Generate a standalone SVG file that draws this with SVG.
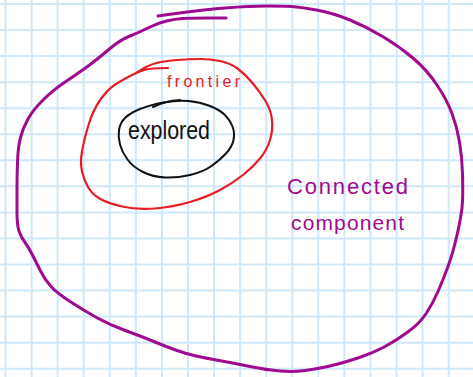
<svg xmlns="http://www.w3.org/2000/svg" width="473" height="377" viewBox="0 0 473 377">
<style>
.grid{stroke:#cfe8fa;stroke-width:2;fill:none}
.loop{fill:none;stroke-linecap:round;stroke-linejoin:round}
.purple{stroke:#a00a90;stroke-width:3}
.red{stroke:#e81a22;stroke-width:2.2}
.black{stroke:#111;stroke-width:2}
.lbl{font-family:"Liberation Sans","DejaVu Sans",sans-serif}
</style>
<rect width="473" height="377" fill="#ffffff"/>
<path class="grid" d="M5.5,0V377M31.6,0V377M57.6,0V377M83.7,0V377M109.8,0V377M135.9,0V377M161.9,0V377M188,0V377M214.1,0V377M240.1,0V377M266.2,0V377M292.3,0V377M318.3,0V377M344.4,0V377M370.5,0V377M396.6,0V377M422.6,0V377M448.7,0V377M0,4H473M0,30.05H473M0,56.1H473M0,82.15H473M0,108.2H473M0,134.25H473M0,160.3H473M0,186.35H473M0,212.4H473M0,238.45H473M0,264.5H473M0,290.55H473M0,316.6H473M0,342.65H473M0,368.7H473"/>
<g id="connected-component">
<path class="loop purple" d="M158,16 Q200,10 225,8 Q250,6 266.5,6 Q283,6 291.5,6.5 Q300,7 316.5,10 Q333,13 350,20 Q367,27 383.5,37 Q400,47 413.5,58.5 Q427,70 437,85 Q447,100 452,113.5 Q457,127 459.5,142 Q462,157 462.5,173.5 Q463,190 462.5,201.5 Q462,213 457.5,233 Q453,253 448,266.5 Q443,280 438,291.5 Q433,303 426.5,313 Q420,323 408.5,331.5 Q397,340 385,346.5 Q373,353 358,358 Q343,363 330,366 Q317,369 305,370.5 Q293,372 280,371 Q267,370 250,366.5 Q233,363 219,360.5 Q205,358 196,356 Q187,354 177,350.5 Q167,347 155,342 Q143,337 126.5,331 Q110,325 96.5,317.5 Q83,310 70,301.5 Q57,293 51,286.5 Q45,280 40.5,271 Q36,262 32.5,255 Q29,248 25,242.5 Q21,237 19,231 Q17,225 17,212.5 Q17,200 17,188.5 Q17,177 17.5,162 Q18,147 20.5,137.5 Q23,128 28,119 Q33,110 43,100 Q53,90 68,80 Q83,70 91.5,63.5 Q100,57 110,48.5 Q120,40 130,36 Q140,32 149,27.5 Q158,23 166.5,21 Q175,19 182.5,18.5 Q190,18 208,18 L226,18"/>
<text class="lbl" x="287" y="194" font-size="22" fill="#a00a90" textLength="121" lengthAdjust="spacing">Connected</text>
<text class="lbl" x="291" y="230" font-size="21" fill="#a00a90" textLength="113" lengthAdjust="spacing">component</text>
</g>
<g id="frontier">
<path class="loop red" d="M168,68 Q150,68 144,70 Q138,72 131,75.5 Q124,79 116,84 Q108,89 100.5,99.5 Q93,110 88.5,125 Q84,140 82,151.5 Q80,163 82,171.5 Q84,180 88,187 Q92,194 99.5,198.5 Q107,203 122,206.5 Q137,210 155,208.5 Q173,207 190,202 Q207,197 220,190 Q233,183 243,175 Q253,167 260,158.5 Q267,150 270,140 Q273,130 272,120 Q271,110 265.5,101 Q260,92 252.5,83 Q245,74 237.5,68.5 Q230,63 220,61 Q210,59 200,59 Q190,59 177.5,60 Q165,61 156.5,63 Q148,65 136,73"/>
<text class="lbl" x="167" y="87" font-size="16" fill="#e81a22" textLength="73" lengthAdjust="spacing">frontier</text>
</g>
<g id="explored">
<path class="loop black" d="M119,130 Q120,123 125,118 Q130,113 140,109 Q150,105 163.5,102.5 Q177,100 188.5,101 Q200,102 210,106 Q220,110 225,115 Q230,120 232.5,126.5 Q235,133 233.5,140 Q232,147 226,153.5 Q220,160 211.5,166 Q203,172 190,175 Q177,178 165,177.5 Q153,177 143,172 Q133,167 127.5,159.5 Q122,152 120,144.5 Q118,137 119,130 Z"/>
<path class="loop black" d="M153,107 Q165,101 180,100"/>
<text class="lbl" x="128" y="139" font-size="26" fill="#111" textLength="82" lengthAdjust="spacingAndGlyphs">explored</text>
</g>
<g id="connectors"/>
</svg>
